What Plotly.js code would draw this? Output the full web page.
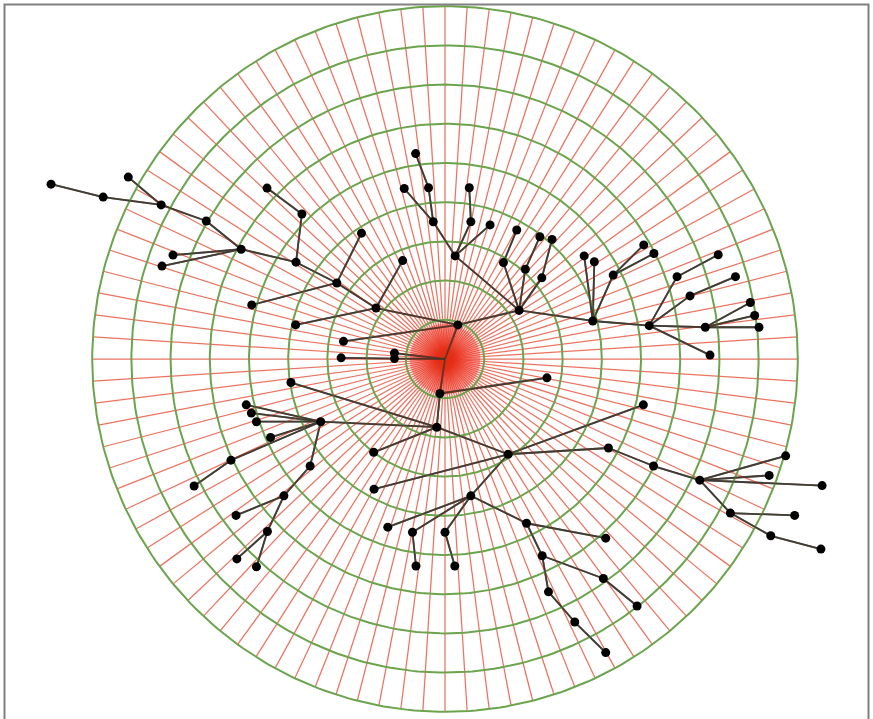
<!DOCTYPE html>
<html>
<head>
<meta charset="utf-8">
<script src="https://cdn.plot.ly/plotly-3.0.1.min.js"></script>
<style>
  html, body { margin: 0; padding: 0; background: #ffffff; }
  #chart { width: 873px; height: 719px; }
</style>
</head>
<body>
<div id="chart"></div>
<script>
// ---- grid definition (radius in ring units) ----
const ringRadii = [1, 2, 3, 4, 5, 6, 7, 8, 9];
const spokeCount = 100;
const innerSpokeCount = 300;   // finer spokes inside the first ring
const innerSpokeRadius = 0.9;

// ---- tree nodes (x, y in ring units, centre = root) ----
const nodeX = [
  0.00, 0.33, -1.76, -2.76, -3.80, -5.20, -6.09, -7.24, -8.72, -10.05,
  -8.08, -6.94, -7.22, -3.65, -4.54, -4.93, -2.13, -1.08, -3.81, -2.59,
  -1.29, -1.29, -2.65, 1.89, 0.26, -0.30, 0.66, 1.15, -0.42, -0.75,
  -1.04, 0.62, 1.49, 2.05, 2.47, 1.83, 2.42, 2.73, 3.77, 3.55,
  3.81, 4.29, 5.07, 5.33, 5.21, 5.92, 6.25, 6.97, 7.41, 6.64,
  7.79, 7.90, 8.01, 6.76, -0.13, 2.60, -0.21, -3.93, -3.17, -5.07,
  -4.94, -4.81, -4.45, -5.46, -6.40, -3.44, -4.11, -5.33, -4.53, -5.31,
  -4.81, -1.82, 1.61, 4.17, 5.32, 6.50, 8.69, 8.27, 9.62, 7.28,
  8.92, 8.31, 9.59, 5.06, -1.81, 0.66, -1.46, -0.83, 0.00, -0.74,
  0.25, 2.08, 4.10, 2.48, 4.04, 4.90, 2.64, 3.31, 4.10
];
const nodeY = [
  0.00, 0.87, 1.30, 1.94, 2.47, 2.80, 3.52, 3.93, 4.13, 4.46,
  4.64, 2.65, 2.37, 3.70, 4.36, 1.38, 3.21, 2.51, 0.87, 0.45,
  0.01, 0.15, 0.03, 1.24, 2.63, 3.50, 3.50, 3.42, 4.37, 5.24,
  4.35, 4.37, 2.46, 2.29, 2.07, 3.29, 3.12, 3.05, 0.97, 2.63,
  2.48, 2.14, 2.91, 2.69, 0.85, 2.10, 1.61, 2.66, 2.10, 0.81,
  1.44, 1.11, 0.81, 0.10, -0.88, -0.48, -1.74, -0.60, -1.60, -1.17,
  -1.38, -1.60, -2.00, -2.58, -3.24, -2.73, -3.49, -3.99, -4.40, -5.10,
  -5.30, -2.38, -2.43, -2.27, -2.73, -3.09, -2.47, -2.97, -3.23, -3.93,
  -3.99, -4.51, -4.85, -1.17, -3.32, -3.49, -4.29, -4.42, -4.42, -5.28,
  -5.28, -4.19, -4.57, -5.02, -5.60, -6.30, -5.94, -6.71, -7.49
];
// parent index of each node (-1 = root)
const nodeParent = [
  -1, 0, 1, 2, 3, 4, 5, 6, 7, 8,
  7, 5, 5, 4, 13, 3, 3, 2, 2, 1,
  0, 0, 20, 1, 23, 24, 24, 24, 25, 28,
  25, 26, 23, 23, 23, 32, 33, 34, 23, 38,
  38, 38, 41, 41, 38, 44, 44, 45, 46, 44,
  49, 49, 49, 44, 0, 54, 54, 56, 56, 58,
  58, 58, 58, 58, 63, 58, 65, 66, 66, 68,
  68, 56, 56, 72, 73, 74, 75, 75, 75, 75,
  79, 79, 81, 72, 72, 72, 85, 85, 85, 87,
  88, 85, 91, 91, 93, 94, 93, 96, 97
];

// ---- build traces ----
const maxR = Math.max(...ringRadii);
const edgeX = [], edgeY = [];
nodeParent.forEach((p, i) => {
  if (p < 0) return;
  edgeX.push(nodeX[p], nodeX[i], null);
  edgeY.push(nodeY[p], nodeY[i], null);
});
const dotX = nodeX.filter((_, i) => nodeParent[i] >= 0);
const dotY = nodeY.filter((_, i) => nodeParent[i] >= 0);

const traces = [
  { type: 'scatter', mode: 'lines', x: edgeX, y: edgeY, hoverinfo: 'skip',
    line: { color: 'rgba(60,55,45,0.9)', width: 1.8 } }
];
// fine inner spokes (each its own trace so overlaps build up toward the centre)
for (let k = 0; k < innerSpokeCount; k++) {
  const a = 2 * Math.PI * (k + 0.5) / innerSpokeCount;
  traces.push({ type: 'scatter', mode: 'lines', hoverinfo: 'skip',
    x: [0, innerSpokeRadius * Math.cos(a)], y: [0, innerSpokeRadius * Math.sin(a)],
    line: { color: 'rgba(255,0,0,0.28)', width: 1 } });
}
// main spokes
for (let k = 0; k < spokeCount; k++) {
  const a = 2 * Math.PI * k / spokeCount;
  traces.push({ type: 'scatter', mode: 'lines', hoverinfo: 'skip',
    x: [0, maxR * Math.cos(a)], y: [0, maxR * Math.sin(a)],
    line: { color: 'rgba(226,48,20,0.68)', width: 1.25 } });
}
// rings
const ringX = [], ringY = [];
ringRadii.forEach(r => {
  for (let i = 0; i <= 360; i++) {
    const a = i * Math.PI / 180;
    ringX.push(r * Math.cos(a));
    ringY.push(r * Math.sin(a));
  }
  ringX.push(null); ringY.push(null);
});
traces.push(
  { type: 'scatter', mode: 'lines', x: ringX, y: ringY, hoverinfo: 'skip',
    line: { color: 'rgb(108,164,78)', width: 2 } },
  { type: 'scatter', mode: 'lines', x: edgeX, y: edgeY, hoverinfo: 'skip',
    line: { color: 'rgba(60,55,45,0.75)', width: 1.8 } },
  { type: 'scatter', mode: 'markers', x: dotX, y: dotY, hoverinfo: 'skip',
    marker: { color: '#000000', size: 9, line: { width: 0 } } }
);

const W = 873, H = 719;
const unit = 39.2;           // pixels per ring unit
const cx = 445, cy = 359;    // centre position in the frame
const layout = {
  width: W, height: H,
  margin: { l: 0, r: 0, t: 0, b: 0 },
  paper_bgcolor: '#ffffff', plot_bgcolor: '#ffffff',
  showlegend: false,
  xaxis: { visible: false, range: [-cx / unit, (W - cx) / unit], fixedrange: true },
  yaxis: { visible: false, range: [-(H - cy) / unit, cy / unit], fixedrange: true },
  shapes: [{
    type: 'rect', xref: 'paper', yref: 'paper',
    x0: 4.5 / W, x1: 1 - 4.5 / W, y0: -0.02, y1: 1 - 4.5 / H,
    line: { color: '#808080', width: 2 }, fillcolor: 'rgba(0,0,0,0)'
  }]
};
Plotly.newPlot('chart', traces, layout, { staticPlot: true, displayModeBar: false });
</script>
</body>
</html>
